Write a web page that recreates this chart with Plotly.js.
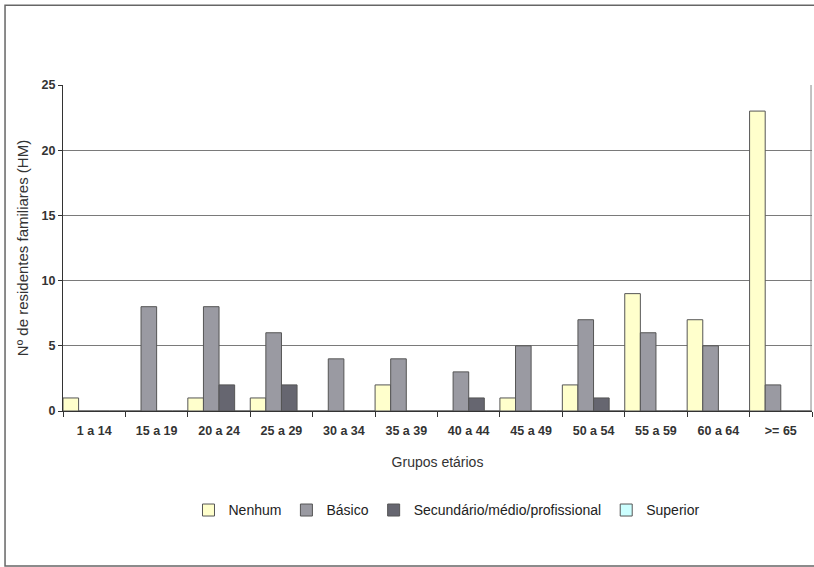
<!DOCTYPE html>
<html>
<head>
<meta charset="utf-8">
<script src="https://cdn.plot.ly/plotly-3.0.1.min.js"></script>
<style>html,body{margin:0;padding:0;background:#fff;}#chart{width:814px;height:567px;}</style>
</head>
<body>
<div id="chart"></div>
<script>
var categories = ["1 a 14","15 a 19","20 a 24","25 a 29","30 a 34","35 a 39","40 a 44","45 a 49","50 a 54","55 a 59","60 a 64",">= 65"];
var nenhum = [1,0,1,1,0,2,0,1,2,9,7,23];
var basico = [0,8,8,6,4,4,3,5,7,6,5,2];
var secundario = [0,0,2,2,0,0,1,0,1,0,0,0];
var superior = [0,0,0,0,0,0,0,0,0,0,0,0];
var seriesNames = ["Nenhum","Básico","Secundário/médio/profissional","Superior"];
var seriesColors = ["#FFFFCC","#9A9AA2","#666670","#CCFFFF"];
var yTicks = [0,5,10,15,20,25];

var font = "Liberation Sans, Arial, sans-serif";
var vals = [nenhum, basico, secundario, superior];
var data = vals.map(function(v, i){
  return {
    type: "bar", x: categories, y: v, name: seriesNames[i],
    marker: {color: seriesColors[i], line: {color: "#555555", width: 1}},
    hoverinfo: "x+y+name"
  };
});

var layout = {
  width: 814, height: 567,
  margin: {l: 63, r: 2, t: 85, b: 156},
  paper_bgcolor: "#ffffff", plot_bgcolor: "#ffffff",
  barmode: "group", bargap: 0, bargroupgap: 0,
  font: {family: font, color: "#333333"},
  showlegend: true,
  legend: {orientation: "h", x: 0.512, xanchor: "center", y: -0.305, yanchor: "middle",
           font: {family: font, size: 14, color: "#222222"}, traceorder: "normal"},
  xaxis: {
    type: "category", tickson: "boundaries", ticks: "outside", ticklen: 5, tickcolor: "#333",
    showline: true, linecolor: "#333333", linewidth: 1, showgrid: false,
    ticklabelstandoff: 8,
    tickfont: {family: font, size: 12.5, color: "#333333", weight: "bold"},
    title: {text: "Grupos etários", font: {family: font, size: 14, color: "#333333"}, standoff: 20},
    automargin: false, mirror: false
  },
  yaxis: {
    range: [0, 25], tickvals: yTicks, ticktext: yTicks.map(String),
    ticks: "outside", ticklen: 4, tickcolor: "#333",
    showline: true, linecolor: "#333333", linewidth: 1,
    showgrid: true, gridcolor: "#7a7a7a", gridwidth: 1, zeroline: false,
    tickfont: {family: font, size: 12.5, color: "#333333", weight: "bold"},
    title: {text: "Nº de residentes familiares (HM)", font: {family: font, size: 15, color: "#333333"}, standoff: 9},
    automargin: false
  },
  shapes: [
    {type: "rect", xref: "paper", yref: "paper", x0: -0.0774, x1: 1.005, y0: -0.4755, y1: 1.245,
     line: {color: "#666666", width: 1.5}, fillcolor: "rgba(0,0,0,0)", layer: "below"},
    {type: "line", xref: "paper", yref: "paper", x0: 0.9987, x1: 0.9987, y0: 0, y1: 1,
     line: {color: "#888888", width: 1}}
  ]
};

Plotly.newPlot("chart", data, layout, {displayModeBar: false, staticPlot: true});
</script>
</body>
</html>
